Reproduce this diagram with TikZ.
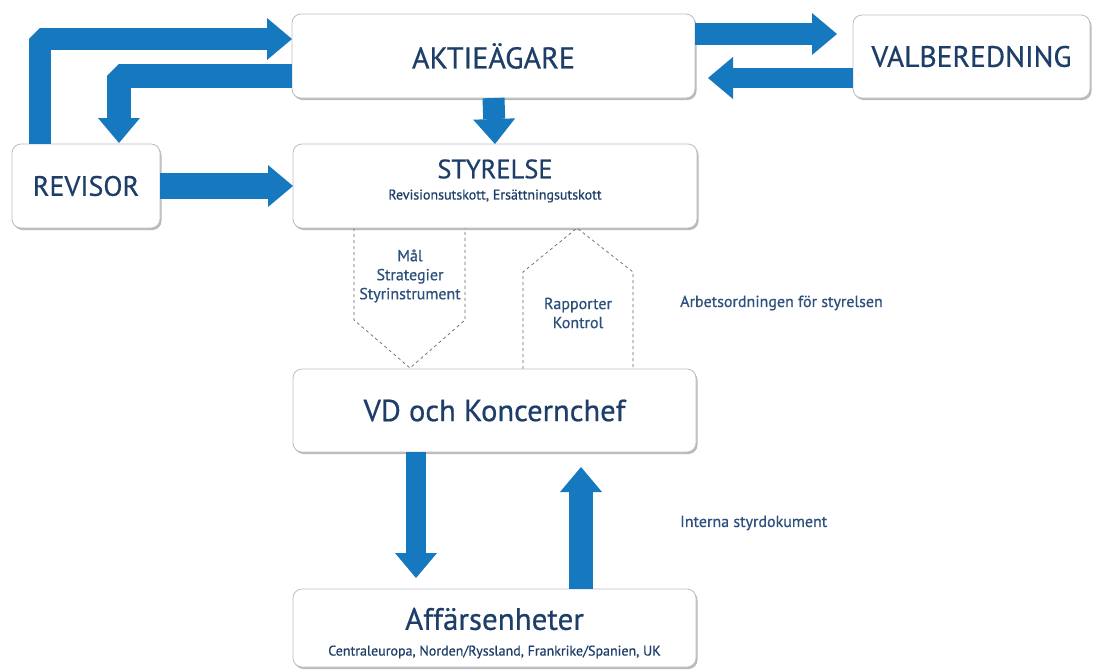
\documentclass[tikz,border=0pt]{standalone}
\usepackage{fontspec}
\setmainfont{PT Sans}[FakeBold=0.6]
\usetikzlibrary{arrows.meta,shadows,calc}
\definecolor{txt}{RGB}{28,62,104}
\definecolor{lbltxt}{RGB}{45,80,125}
\definecolor{arrb}{RGB}{22,120,190}
\definecolor{boxb}{RGB}{185,190,200}
\tikzset{
  box/.style={draw=boxb, line width=0.8pt, fill=white, rounded corners=9pt,
    inner sep=0pt, outer sep=0pt, text=txt, align=center,
    drop shadow={shadow xshift=1.5pt, shadow yshift=-2pt, opacity=0.45, fill=black!60}},
  fs/.style={font=\fontsize{#1}{#1}\selectfont},
  title/.style={text=txt, inner sep=0pt, fs=#1},
  sub/.style={text=txt, inner sep=0pt, fs=14},
  lbl/.style={text=lbltxt, align=center, font=\fontsize{16}{19}\selectfont, inner sep=0pt},
  barrow/.style={draw=arrb, line width=#1, line join=bevel,
    -{Triangle[width=42pt,length=25pt,line width=0pt]}},
  barrow/.default=22pt,
  dashedge/.style={draw=black!60, dashed, line width=0.7pt}
}
\begin{document}
\begin{tikzpicture}[x=1pt,y=-1pt]
\useasboundingbox[fill=white] (0,0) rectangle (1096,670);
% dashed pentagons
\draw[dashedge] (354,228) -- (354,320) -- (410,368) -- (465,320) -- (465,228);
\draw[dashedge] (523,369) -- (523,272) -- (577,228) -- (633,272) -- (633,369);
% boxes
\node[box, minimum width=403, minimum height=84, fs=30] (akt) at (493.5,56) {AKTIEÄGARE};
\node[box, minimum width=237, minimum height=83, fs=29.5] (val) at (971.5,56.5) {VALBEREDNING};
\node[box, minimum width=148, minimum height=84, fs=28] (rev) at (86,186) {REVISOR};
\node[box, minimum width=404, minimum height=84] (sty) at (495,186) {};
\node[title=26.5] (stytitle) at ($(sty.center)+(0,-17)$) {STYRELSE};
\node[sub] (stysub) at ($(sty.center)+(0,10)$) {Revisionsutskott, Ersättningsutskott};
\node[box, minimum width=403, minimum height=83, fs=30.5] (vd) at (494.5,410.5) {VD och Koncernchef};
\node[box, minimum width=403, minimum height=78] (aff) at (494.5,628) {};
\node[title=31] (afftitle) at ($(aff.center)+(0,-9)$) {Affärsenheter};
\node[sub] (affsub) at ($(aff.center)+(0,24)$) {Centraleuropa, Norden/Ryssland, Frankrike/Spanien, UK};
% arrows
\draw[barrow] ($(rev.north)+(-46.5,0)$) |- ($(akt.west)+(0,-17)$);
\draw[barrow=24pt] ($(akt.west)+(0,20)$) -| ($(rev.north)+(33,-1)$);
\draw[barrow=26pt] (rev.east) -- (sty.west);
\draw[barrow] (akt.south) -- (sty.north);
\draw[barrow] ($(akt.east)+(0,-22)$) -- ($(val.west)+(-16,-22.5)$);
\draw[barrow=20pt] ($(val.west)+(0,21.5)$) -- ($(akt.east)+(13,22)$);
\draw[barrow=20pt] ($(vd.south)+(-78.5,0)$) -- ($(aff.north)+(-78.5,-11)$);
\draw[barrow=24pt] ($(aff.north)+(86.5,0)$) -- ($(vd.south)+(86.5,15)$);
% labels
\node[lbl] (mal) at (410,276) {Mål\\Strategier\\Styrinstrument};
\node[lbl] (rap) at (578,313) {Rapporter\\Kontrol};
\node[lbl, anchor=west] (arb) at (680,303) {Arbetsordningen för styrelsen};
\node[lbl, anchor=west] (int) at (680,523) {Interna styrdokument};
\end{tikzpicture}
\end{document}
